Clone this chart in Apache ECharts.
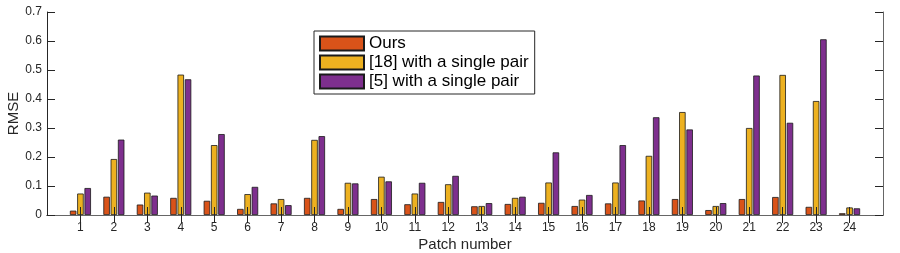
<!DOCTYPE html>
<html>
<head>
<meta charset="utf-8">
<script src="https://cdn.jsdelivr.net/npm/echarts@6/dist/echarts.min.js"></script>
<style>html,body{margin:0;padding:0;background:#fff}#c{width:900px;height:253px}</style>
</head>
<body>
<div id="c"></div>
<script>
var categories = ['', '1','2','3','4','5','6','7','8','9','10','11','12','13','14','15','16','17','18','19','20','21','22','23','24', ''];
var seriesNames = ['Ours', '[18] with a single pair', '[5] with a single pair'];
var ours   = [null, 0.015,0.063,0.036,0.059,0.049,0.021,0.040,0.059,0.021,0.055,0.037,0.045,0.030,0.038,0.042,0.031,0.040,0.050,0.055,0.017,0.055,0.062,0.028,0.006, null];
var ref18  = [null, 0.074,0.193,0.077,0.484,0.241,0.072,0.055,0.259,0.111,0.132,0.074,0.106,0.031,0.059,0.112,0.053,0.112,0.204,0.355,0.031,0.300,0.483,0.393,0.026, null];
var ref5   = [null, 0.093,0.260,0.067,0.468,0.279,0.097,0.034,0.272,0.109,0.116,0.111,0.135,0.041,0.063,0.216,0.069,0.241,0.337,0.295,0.041,0.481,0.318,0.606,0.023, null];
var yTicks = [0, 0.1, 0.2, 0.3, 0.4, 0.5, 0.6, 0.7];

var colors = ['#D95319', '#EDB120', '#7E2F8E'];
var FONT = 'Liberation Sans, Arial, sans-serif';
var chart = echarts.init(document.getElementById('c'), null, {renderer: 'canvas'});
function bar(name, data, color) {
  return {
    name: name, type: 'bar', data: data, barWidth: 6.5, barGap: '12%',
    itemStyle: {color: color, borderColor: '#1a1a1a', borderWidth: 0.8},
    emphasis: {disabled: true}
  };
}
var tickInt = function (i) { return i > 0 && i < categories.length - 1; };
chart.setOption({
  animation: false,
  backgroundColor: '#fff',
  textStyle: {fontFamily: FONT},
  grid: {left: 47, right: 17, top: 12, bottom: 38, outerBoundsMode: 'none', containLabel: false},
  legend: {
    orient: 'vertical', left: 314, top: 31, icon: 'rect',
    itemWidth: 44, itemHeight: 14, itemGap: 2,
    padding: [4, 6, 4, 5],
    borderColor: '#262626', borderWidth: 1, backgroundColor: '#fff',
    textStyle: {fontSize: 17, lineHeight: 17, color: '#000', fontFamily: FONT},
    data: seriesNames
  },
  xAxis: [{
    type: 'category', data: categories, boundaryGap: false, z: 5,
    name: 'Patch number', nameLocation: 'middle', nameGap: 22, nameMoveOverlap: false,
    nameTextStyle: {fontSize: 15, color: '#262626', fontFamily: FONT},
    axisLine: {lineStyle: {color: '#262626', width: 1}},
    axisTick: {inside: true, length: 8, interval: tickInt, lineStyle: {color: '#262626'}},
    axisLabel: {fontSize: 12, color: '#262626', margin: 7, interval: 0, fontFamily: FONT},
    splitLine: {show: false}
  }, {
    type: 'category', data: categories, boundaryGap: false, position: 'top', z: 5,
    axisLine: {lineStyle: {color: '#666', width: 1}},
    axisTick: {inside: true, length: 8, interval: tickInt, lineStyle: {color: '#262626'}},
    axisLabel: {show: false},
    splitLine: {show: false}
  }],
  yAxis: [{
    type: 'value', min: 0, max: 0.7, interval: 0.1, z: 5,
    name: 'RMSE', nameLocation: 'middle', nameGap: 26, nameMoveOverlap: false,
    nameTextStyle: {fontSize: 15, color: '#262626', fontFamily: FONT},
    axisLine: {show: true, lineStyle: {color: '#262626', width: 1}},
    axisTick: {show: true, inside: true, length: 8, lineStyle: {color: '#262626'}},
    axisLabel: {fontSize: 12, color: '#262626', margin: 5, fontFamily: FONT,
      formatter: function (v) { return v === 0 ? '0' : v.toFixed(1); }},
    splitLine: {show: false}
  }, {
    type: 'value', min: 0, max: 0.7, interval: 0.1, position: 'right', z: 5,
    axisLine: {show: true, lineStyle: {color: '#666', width: 1}},
    axisTick: {show: true, inside: true, length: 8, lineStyle: {color: '#262626'}},
    axisLabel: {show: false},
    splitLine: {show: false}
  }],
  series: [bar(seriesNames[0], ours, colors[0]), bar(seriesNames[1], ref18, colors[1]), bar(seriesNames[2], ref5, colors[2])]
});
</script>
</body>
</html>
